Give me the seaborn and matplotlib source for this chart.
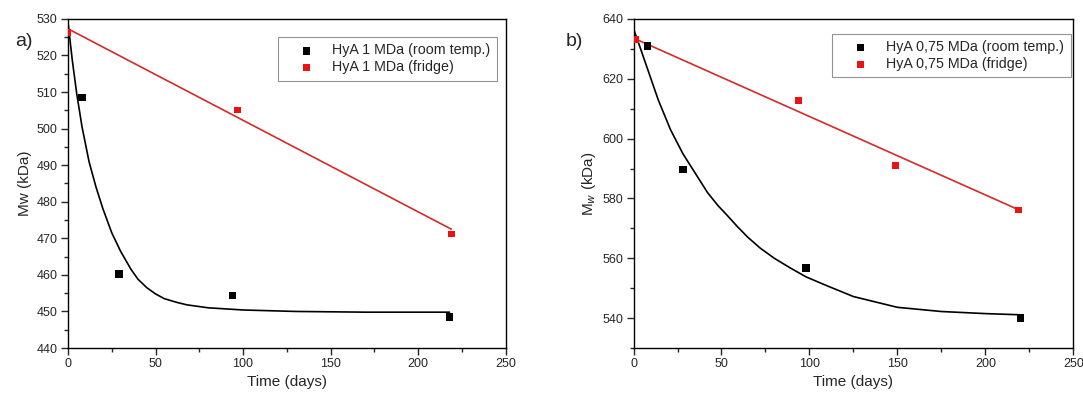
import numpy as np
import pandas as pd
import matplotlib
matplotlib.use("Agg")
import matplotlib.pyplot as plt
from matplotlib.ticker import MultipleLocator
import seaborn as sns

# panel a) HyA 1 MDa
a_room_t = [8, 29, 94, 218]
a_room_mw = [508.5, 460.3, 454.4, 448.4]
a_fridge_t = [0, 97, 219]
a_fridge_mw = [526.3, 505.1, 471.2]
# fitted curves
a_room_fit_t = [0, 2.5, 5, 8, 12, 16, 20, 25, 30, 36, 40, 45, 50, 55, 62, 68, 80, 100, 130, 170, 218]
a_room_fit_mw = [529, 518.5, 509.5, 500.5, 491, 484, 478, 471.5, 466.5, 461.5, 458.8, 456.5,
                 454.8, 453.5, 452.5, 451.8, 451.0, 450.4, 450.0, 449.8, 449.8]
a_fridge_fit_t = [0, 219]
a_fridge_fit_mw = [527.3, 472.5]

# panel b) HyA 0,75 MDa
b_room_t = [8, 28, 98, 220]
b_room_mw = [631.0, 589.7, 556.8, 540.1]
b_fridge_t = [1, 94, 149, 219]
b_fridge_mw = [633.0, 612.6, 590.9, 576.1]
b_room_fit_t = [0, 4, 9, 14, 21, 28, 35, 42, 48, 53, 59, 65, 72, 80, 89, 98, 110, 125, 150, 175, 200, 220]
b_room_fit_mw = [636.7, 630, 621.5, 613, 603, 595, 588.5, 582, 577.6, 574.5, 570.6, 567,
                 563.4, 560, 556.8, 553.8, 550.8, 547.2, 543.6, 542.2, 541.5, 541.1]
b_fridge_fit_t = [0, 219]
b_fridge_fit_mw = [633.6, 576.2]

sns.set_style("ticks")
plt.rcParams['font.family'] = ['Liberation Sans', 'DejaVu Sans']
plt.rcParams['axes.linewidth'] = 1.0

fig = plt.figure(figsize=(10.83, 3.96), dpi=100)
ax1 = fig.add_axes([0.0628, 0.1212, 0.404, 0.831])
ax2 = fig.add_axes([0.585, 0.1212, 0.406, 0.831])

RED_LINE = "#d42a2a"
RED_PT = "#ee1111"


def draw_panel(ax, room_t, room_mw, fr_t, fr_mw, rfit_t, rfit_mw, ffit_t, ffit_mw,
               lab_room, lab_fridge):
    sns.lineplot(x=rfit_t, y=rfit_mw, ax=ax, color="black", linewidth=1.2,
                 estimator=None, sort=False, label="_nolegend_")
    sns.lineplot(x=ffit_t, y=ffit_mw, ax=ax, color=RED_LINE, linewidth=1.2,
                 estimator=None, sort=False, label="_nolegend_")
    sns.scatterplot(x=room_t, y=room_mw, ax=ax, marker="s", s=30, color="black",
                    edgecolor="none", label=lab_room, zorder=5)
    sns.scatterplot(x=fr_t, y=fr_mw, ax=ax, marker="s", s=24, color=RED_PT,
                    edgecolor="none", label=lab_fridge, zorder=6)
    ax.set_xlim(0, 250)
    ax.xaxis.set_major_locator(MultipleLocator(50))
    ax.xaxis.set_minor_locator(MultipleLocator(25))
    ax.tick_params(which="major", direction="out", length=5, width=1, labelsize=9,
                   top=False, right=False, pad=2.5)
    ax.tick_params(which="minor", direction="out", length=3, width=1,
                   top=False, right=False)
    ax.set_xlabel("Time (days)", fontsize=11, labelpad=3)
    for sp in ax.spines.values():
        sp.set_visible(True)
        sp.set_color("black")


def add_legend(ax, anchor):
    leg = ax.legend(loc="upper right", bbox_to_anchor=anchor, fontsize=10.3,
                    frameon=True, fancybox=False, edgecolor="#777777", borderpad=0.45,
                    handlelength=3.1, handletextpad=0.25, labelspacing=0.2,
                    borderaxespad=0)
    leg.get_frame().set_linewidth(0.8)


draw_panel(ax1, a_room_t, a_room_mw, a_fridge_t, a_fridge_mw,
           a_room_fit_t, a_room_fit_mw, a_fridge_fit_t, a_fridge_fit_mw,
           "HyA 1 MDa (room temp.)", "HyA 1 MDa (fridge)")
ax1.set_ylim(440, 530)
ax1.yaxis.set_major_locator(MultipleLocator(10))
ax1.yaxis.set_minor_locator(MultipleLocator(5))
ax1.set_ylabel("Mw (kDa)", fontsize=11, labelpad=3)
add_legend(ax1, (0.98, 0.945))

draw_panel(ax2, b_room_t, b_room_mw, b_fridge_t, b_fridge_mw,
           b_room_fit_t, b_room_fit_mw, b_fridge_fit_t, b_fridge_fit_mw,
           "HyA 0,75 MDa (room temp.)", "HyA 0,75 MDa (fridge)")
ax2.set_ylim(530, 640)
ax2.yaxis.set_major_locator(MultipleLocator(20))
ax2.yaxis.set_minor_locator(MultipleLocator(10))
ax2.set_ylabel("M$_w$ (kDa)", fontsize=11, labelpad=3)
add_legend(ax2, (0.994, 0.955))

fig.text(0.014, 0.885, "a)", fontsize=14)
fig.text(0.522, 0.885, "b)", fontsize=14)

fig.savefig("out.png", dpi=100)
